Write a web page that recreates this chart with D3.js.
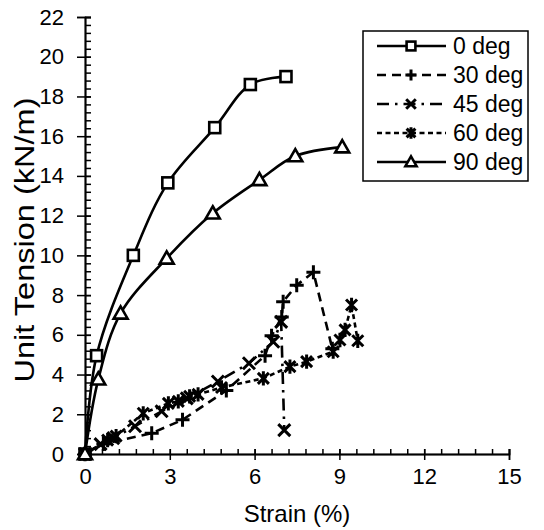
<!DOCTYPE html>
<html>
<head>
<meta charset="utf-8">
<script src="https://cdn.jsdelivr.net/npm/d3@7"></script>
<style>
  html, body { margin: 0; padding: 0; background: #fff; }
  svg text { font-family: "Liberation Sans", Arial, sans-serif; fill: #000; }
</style>
</head>
<body>
<svg id="chart" width="544" height="530"></svg>
<script>
// tick labels
const X_TICKS = [0, 3, 6, 9, 12, 15];
const Y_TICKS = [0, 2, 4, 6, 8, 10, 12, 14, 16, 18, 20, 22];

// series values: [strain %, unit tension kN/m]
const deg0 = [[0, 0], [0.41, 4.95], [1.71, 10.0], [2.93, 13.65], [4.59, 16.43], [5.85, 18.6], [7.11, 19.0]];
const deg30 = [[0, 0], [0.65, 0.5], [2.36, 1.05], [3.45, 1.72], [5.0, 3.2], [6.37, 4.95], [6.6, 5.95],
  [6.96, 6.9], [7.01, 7.67], [7.49, 8.5], [8.08, 9.15], [8.75, 5.3]];
const deg45 = [[0, 0], [0.55, 0.5], [1.0, 0.8], [1.77, 1.4], [2.71, 2.15], [3.6, 2.8], [4.7, 3.65],
  [5.8, 4.57], [6.66, 5.65], [6.94, 6.65], [7.05, 1.2]];
const deg60 = [[0, 0], [0.8, 0.7], [1.1, 0.9], [2.06, 2.05], [2.95, 2.55], [3.3, 2.65], [3.7, 2.9],
  [4.0, 3.0], [4.83, 3.35], [6.31, 3.81], [7.25, 4.4], [7.84, 4.65], [8.78, 5.15], [9.02, 5.74],
  [9.2, 6.25], [9.43, 7.5], [9.65, 5.7]];
const deg90 = [[0, 0], [0.47, 3.76], [1.26, 7.08], [2.89, 9.85], [4.52, 12.12], [6.17, 13.8], [7.44, 15.0], [9.1, 15.45]];

const SERIES = [
  { name: '0 deg', data: deg0, dash: null, marker: 'square', smooth: true },
  { name: '30 deg', data: deg30, dash: '9,6', marker: 'plus', smooth: false },
  { name: '45 deg', data: deg45, dash: '12,6,2.5,6', marker: 'x', smooth: false },
  { name: '60 deg', data: deg60, dash: '5,3.5', marker: 'star', smooth: false },
  { name: '90 deg', data: deg90, dash: null, marker: 'triangle', smooth: true }
];

const svg = d3.select('#chart');
const x = d3.scaleLinear().domain([0, 15]).range([85, 509]);
const y = d3.scaleLinear().domain([0, 22]).range([454, 17]);

// axes
const xMinor = d3.range(0, 26).map(i => +(i * 0.6).toFixed(1));
const yMinor = d3.range(0, 56).map(i => +(i * 0.4).toFixed(1));

function styleAxis(g) {
  g.select('.domain').attr('stroke', '#000').attr('stroke-width', 1.5);
  g.selectAll('.tick line').attr('stroke', '#000').attr('stroke-width', 1.5);
  g.selectAll('.tick text').attr('font-size', 22).attr('fill', '#000');
}

svg.append('g').attr('transform', `translate(0,${y(0)})`)
  .call(d3.axisBottom(x).tickValues(xMinor).tickSize(-5).tickFormat(''))
  .call(styleAxis);
svg.append('g').attr('transform', `translate(0,${y(0)})`)
  .call(d3.axisBottom(x).tickValues(X_TICKS).tickSize(-5).tickFormat(''))
  .call(styleAxis);
svg.append('g').attr('transform', `translate(0,${y(0)})`)
  .call(d3.axisBottom(x).tickValues(X_TICKS).tickSize(6).tickPadding(8).tickFormat(d3.format('d')))
  .call(styleAxis);

svg.append('g').attr('transform', `translate(${x(0)},0)`)
  .call(d3.axisLeft(y).tickValues(yMinor).tickSize(-6).tickFormat(''))
  .call(styleAxis);
svg.append('g').attr('transform', `translate(${x(0)},0)`)
  .call(d3.axisLeft(y).tickValues(Y_TICKS).tickSize(-6).tickFormat(''))
  .call(styleAxis);
svg.append('g').attr('transform', `translate(${x(0)},0)`)
  .call(d3.axisLeft(y).tickValues(Y_TICKS).tickSize(8).tickPadding(13).tickFormat(d3.format('d')))
  .call(styleAxis);

svg.selectAll('.tick text').attr('font-family', '"Liberation Sans", Arial, sans-serif');

// axis titles
svg.append('text').attr('x', 297).attr('y', 522).attr('text-anchor', 'middle')
  .attr('font-size', 24).text('Strain (%)');
svg.append('text').attr('transform', 'translate(34,240) rotate(-90)')
  .attr('text-anchor', 'middle').attr('font-size', 27)
  .attr('textLength', 285).attr('lengthAdjust', 'spacingAndGlyphs')
  .text('Unit Tension (kN/m)');

// markers
function drawMarker(g, type, cx, cy, s) {
  s = s || 1;
  if (type === 'square') {
    g.append('rect').attr('x', cx - 5.5 * s).attr('y', cy - 5.5 * s).attr('width', 11 * s).attr('height', 11 * s)
      .attr('fill', '#fff').attr('stroke', '#000').attr('stroke-width', 2.6);
  } else if (type === 'triangle') {
    const h = 7 * s;
    g.append('path').attr('d', `M${cx},${cy - h}L${cx + h},${cy + h * 0.75}L${cx - h},${cy + h * 0.75}Z`)
      .attr('fill', '#fff').attr('stroke', '#000').attr('stroke-width', 2.6).attr('stroke-linejoin', 'miter');
  } else if (type === 'plus') {
    const h = 7 * s;
    g.append('path').attr('d', `M${cx - h},${cy}H${cx + h}M${cx},${cy - h}V${cy + h}`)
      .attr('stroke', '#000').attr('stroke-width', 3).attr('fill', 'none');
  } else if (type === 'x') {
    const h = 6 * s;
    g.append('path').attr('d', `M${cx - h},${cy - h}L${cx + h},${cy + h}M${cx - h},${cy + h}L${cx + h},${cy - h}`)
      .attr('stroke', '#000').attr('stroke-width', 3).attr('fill', 'none');
  } else if (type === 'star') {
    const h = 5.5 * s;
    g.append('path').attr('d', `M${cx - h},${cy - h}L${cx + h},${cy + h}M${cx - h},${cy + h}L${cx + h},${cy - h}M${cx},${cy - h * 1.3}V${cy + h * 1.3}`)
      .attr('stroke', '#000').attr('stroke-width', 3).attr('fill', 'none');
  }
}

const plot = svg.append('g');
SERIES.forEach(s => {
  const line = d3.line().x(d => x(d[0])).y(d => y(d[1]))
    .curve(s.smooth ? d3.curveCatmullRom.alpha(0.5) : d3.curveLinear);
  plot.append('path').datum(s.data).attr('d', line)
    .attr('fill', 'none').attr('stroke', '#000').attr('stroke-width', 2.6)
    .attr('stroke-dasharray', s.dash);
});
SERIES.forEach(s => {
  const mg = plot.append('g');
  s.data.forEach(d => drawMarker(mg, s.marker, x(d[0]), y(d[1])));
});

// legend
const lg = svg.append('g');
lg.append('rect').attr('x', 363).attr('y', 31).attr('width', 165).attr('height', 150)
  .attr('fill', '#fff').attr('stroke', '#000').attr('stroke-width', 1.5);
SERIES.forEach((s, i) => {
  const cy = 46 + i * 29;
  lg.append('line').attr('x1', 377).attr('x2', 446).attr('y1', cy).attr('y2', cy)
    .attr('stroke', '#000').attr('stroke-width', 2.6).attr('stroke-dasharray', s.dash);
  drawMarker(lg, s.marker, 411, cy, 0.8);
  lg.append('text').attr('x', 453).attr('y', cy).attr('dy', '0.36em')
    .attr('font-size', 23).text(s.name);
});
</script>
</body>
</html>
